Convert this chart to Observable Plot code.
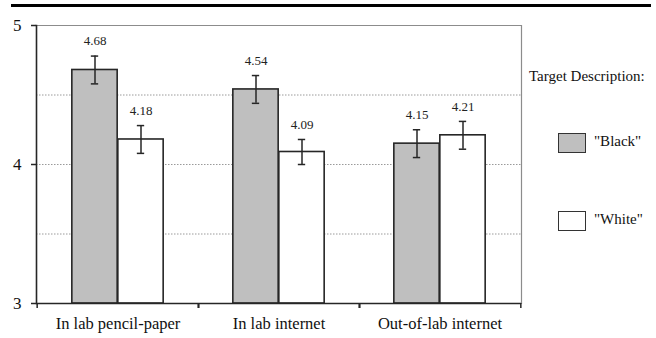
<!DOCTYPE html>
<html><head><meta charset="utf-8">
<script src="https://cdn.jsdelivr.net/npm/d3@7"></script>
<script src="https://cdn.jsdelivr.net/npm/@observablehq/plot@0.6"></script>
<style>
body{margin:0;background:#fff;}
#wrap{position:relative;width:656px;height:338px;font-family:'Liberation Serif','Times New Roman',Tinos,'DejaVu Serif',serif;color:#111;}
#chart{position:absolute;left:0;top:0;}
#topline{position:absolute;left:11px;top:4px;width:640px;height:3px;background:#000;}
#legtitle{position:absolute;left:529px;top:68px;font-size:15px;white-space:nowrap;}
.sw{position:absolute;left:558px;width:26px;height:18px;border:1.5px solid #333;}
.lt{position:absolute;left:594px;font-size:15px;}
</style>
</head><body>
<div id="wrap">
<div id="chart"></div>
<div id="topline"></div>
<div id="legtitle"></div>
<div class="sw" id="sw0" style="top:133px;"></div><div class="lt" id="lt0" style="top:133px;"></div>
<div class="sw" id="sw1" style="top:211px;"></div><div class="lt" id="lt1" style="top:211px;"></div>
</div>
<script>
const conditions = ["In lab pencil-paper", "In lab internet", "Out-of-lab internet"];
const blackMeans = [4.68, 4.54, 4.15];
const whiteMeans = [4.18, 4.09, 4.21];
const blackErr = [0.10, 0.10, 0.10];
const whiteErr = [0.10, 0.09, 0.10];
const seriesNames = ['"Black"', '"White"'];
const legendTitle = "Target Description:";
const yTicks = [3, 4, 5];
const gridValues = [3.5, 4, 4.5];

const colors = ["#bfbfbf", "#ffffff"];
const W = 656, H = 338, mL = 36, mR = 135, mT = 25, mB = 35;
const bw = (W - mL - mR) / conditions.length;
const barW = 46;
const serif = "'Liberation Serif', 'Times New Roman', Tinos, 'DejaVu Serif', serif";

const rows = [];
conditions.forEach((c, i) => {
  rows.push({cond: c, s: 0, mean: blackMeans[i], lo: blackMeans[i] - blackErr[i], hi: blackMeans[i] + blackErr[i]});
  rows.push({cond: c, s: 1, mean: whiteMeans[i], lo: whiteMeans[i] - whiteErr[i], hi: whiteMeans[i] + whiteErr[i]});
});
const blk = rows.filter(d => d.s === 0), wht = rows.filter(d => d.s === 1);
const base = yTicks[0];
const ink = "#262626";

const barOpts = (s) => s === 0
  ? {insetLeft: bw / 2 - barW, insetRight: bw / 2}
  : {insetLeft: bw / 2, insetRight: bw / 2 - barW};
const capOpts = (s) => {
  const c = s === 0 ? bw / 2 - barW / 2 : bw / 2 + barW / 2;
  return {insetLeft: c - 4, insetRight: bw - c - 4};
};

const plot = Plot.plot({
  width: W, height: H,
  marginLeft: mL, marginRight: mR, marginTop: mT, marginBottom: mB,
  style: {fontFamily: serif, background: "transparent", color: "#111"},
  x: {domain: conditions, padding: 0, axis: null},
  y: {domain: [yTicks[0], yTicks[yTicks.length - 1]], axis: null},
  marks: [
    Plot.ruleY(gridValues, {stroke: "#9a9a9a", strokeDasharray: "1.5,1.5", strokeWidth: 1}),
    Plot.ruleY([yTicks[yTicks.length - 1]], {stroke: "#8c8c8c", strokeWidth: 1.2}),
    Plot.frame({anchor: "right", stroke: "#8c8c8c", strokeWidth: 1.2}),
    Plot.barY(blk, {x: "cond", y1: () => base, y2: "mean", fill: colors[0], stroke: ink, strokeWidth: 1.6, ...barOpts(0)}),
    Plot.barY(wht, {x: "cond", y1: () => base, y2: "mean", fill: colors[1], stroke: ink, strokeWidth: 1.6, ...barOpts(1)}),
    Plot.ruleX(blk, {x: "cond", y1: "lo", y2: "hi", dx: -barW / 2, stroke: ink, strokeWidth: 1.5}),
    Plot.ruleX(wht, {x: "cond", y1: "lo", y2: "hi", dx: barW / 2, stroke: ink, strokeWidth: 1.5}),
    Plot.tickY(blk, {x: "cond", y: "lo", stroke: ink, strokeWidth: 1.5, ...capOpts(0)}),
    Plot.tickY(blk, {x: "cond", y: "hi", stroke: ink, strokeWidth: 1.5, ...capOpts(0)}),
    Plot.tickY(wht, {x: "cond", y: "lo", stroke: ink, strokeWidth: 1.5, ...capOpts(1)}),
    Plot.tickY(wht, {x: "cond", y: "hi", stroke: ink, strokeWidth: 1.5, ...capOpts(1)}),
    Plot.text(blk, {x: "cond", y: "hi", text: d => d.mean.toFixed(2), dx: -barW / 2, dy: -15, fontSize: 13, fill: "#222"}),
    Plot.text(wht, {x: "cond", y: "hi", text: d => d.mean.toFixed(2), dx: barW / 2, dy: -15, fontSize: 13, fill: "#222"}),
    Plot.ruleY([base], {stroke: ink, strokeWidth: 1.6}),
    Plot.frame({anchor: "left", stroke: ink, strokeWidth: 1.6}),
    Plot.axisY({ticks: yTicks, tickFormat: d => String(d), label: null, tickSize: 5, tickPadding: 10, fontSize: 17, stroke: ink, strokeWidth: 1.5}),
    Plot.axisX({label: null, tickSize: 0, tickPadding: 14, fontSize: 16.5}),
    Plot.axisX({label: null, tickSize: 5, tickFormat: () => "", dx: -bw / 2, stroke: ink, strokeWidth: 1.5}),
    Plot.axisX({label: null, tickSize: 5, tickFormat: () => "", dx: bw / 2, stroke: ink, strokeWidth: 1.5})
  ]
});
document.getElementById("chart").appendChild(plot);
document.getElementById("legtitle").textContent = legendTitle;
seriesNames.forEach((n, i) => {
  document.getElementById("sw" + i).style.background = colors[i];
  document.getElementById("lt" + i).textContent = n;
});
</script>
</body></html>
